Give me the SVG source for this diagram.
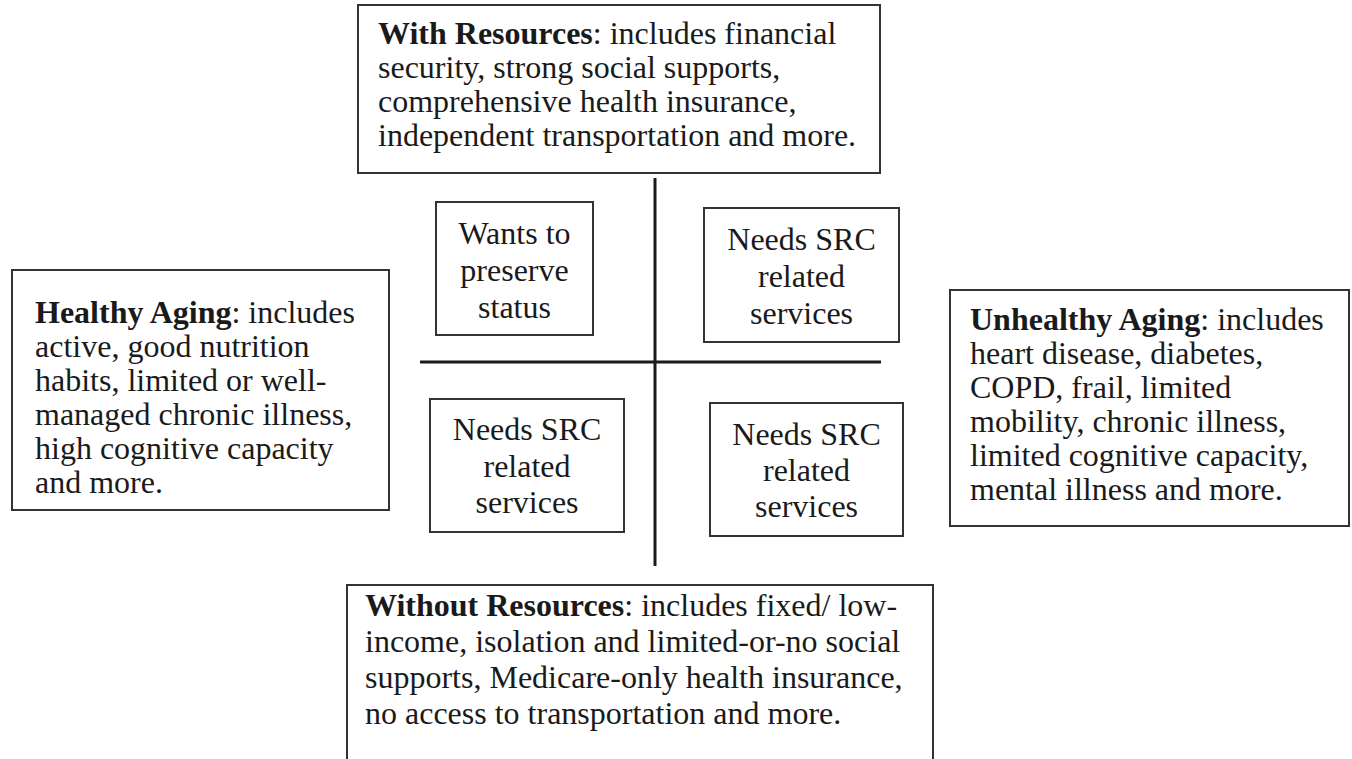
<svg xmlns="http://www.w3.org/2000/svg" width="1352" height="759" viewBox="0 0 1352 759">
<style>
.box{fill:#fff;stroke:#333;stroke-width:2}
.t{font-family:"Liberation Serif","Times New Roman",serif;font-size:32px;fill:#1a1a1a}
.c{text-anchor:middle}
.b{font-weight:bold}
.ln{stroke:#1a1a1a;stroke-width:3;fill:none}
</style>
<rect width="1352" height="759" fill="#fff"/>
<g id="connectors">
<line class="ln" x1="655" y1="178" x2="655" y2="566"/>
<line class="ln" x1="420" y1="362" x2="881" y2="362"/>
</g>
<g id="with-resources">
<rect class="box" x="358" y="5" width="522" height="168"/>
<text class="t" x="378" y="44"><tspan class="b">With Resources</tspan>: includes financial</text>
<text class="t" x="378" y="78">security, strong social supports,</text>
<text class="t" x="378" y="112">comprehensive health insurance,</text>
<text class="t" x="378" y="146">independent transportation and more.</text>
</g>
<g id="healthy-aging">
<rect class="box" x="12" y="270" width="377" height="240"/>
<text class="t" x="35" y="323"><tspan class="b">Healthy Aging</tspan>: includes</text>
<text class="t" x="35" y="357">active, good nutrition</text>
<text class="t" x="35" y="391">habits, limited or well-</text>
<text class="t" x="35" y="425">managed chronic illness,</text>
<text class="t" x="35" y="459">high cognitive capacity</text>
<text class="t" x="35" y="493">and more.</text>
</g>
<g id="unhealthy-aging">
<rect class="box" x="950" y="290" width="399" height="236"/>
<text class="t" x="970" y="330"><tspan class="b">Unhealthy Aging</tspan>: includes</text>
<text class="t" x="970" y="364">heart disease, diabetes,</text>
<text class="t" x="970" y="398">COPD, frail, limited</text>
<text class="t" x="970" y="432">mobility, chronic illness,</text>
<text class="t" x="970" y="466">limited cognitive capacity,</text>
<text class="t" x="970" y="500">mental illness and more.</text>
</g>
<g id="without-resources">
<rect class="box" x="347" y="585" width="586" height="190"/>
<text class="t" x="365" y="616"><tspan class="b">Without Resources</tspan>: includes fixed/ low-</text>
<text class="t" x="365" y="652">income, isolation and limited-or-no social</text>
<text class="t" x="365" y="688">supports, Medicare-only health insurance,</text>
<text class="t" x="365" y="724">no access to transportation and more.</text>
</g>
<g id="q-wants">
<rect class="box" x="436" y="202" width="157" height="133"/>
<text class="t c" x="514.5" y="244">Wants to</text>
<text class="t c" x="514.5" y="281">preserve</text>
<text class="t c" x="514.5" y="318">status</text>
</g>
<g id="q-needs-tr">
<rect class="box" x="704" y="208" width="195" height="134"/>
<text class="t c" x="801.5" y="250">Needs SRC</text>
<text class="t c" x="801.5" y="287">related</text>
<text class="t c" x="801.5" y="324">services</text>
</g>
<g id="q-needs-bl">
<rect class="box" x="430" y="399" width="194" height="133"/>
<text class="t c" x="527" y="440">Needs SRC</text>
<text class="t c" x="527" y="477">related</text>
<text class="t c" x="527" y="513">services</text>
</g>
<g id="q-needs-br">
<rect class="box" x="710" y="403" width="193" height="133"/>
<text class="t c" x="806.5" y="445">Needs SRC</text>
<text class="t c" x="806.5" y="481">related</text>
<text class="t c" x="806.5" y="517">services</text>
</g>
</svg>
